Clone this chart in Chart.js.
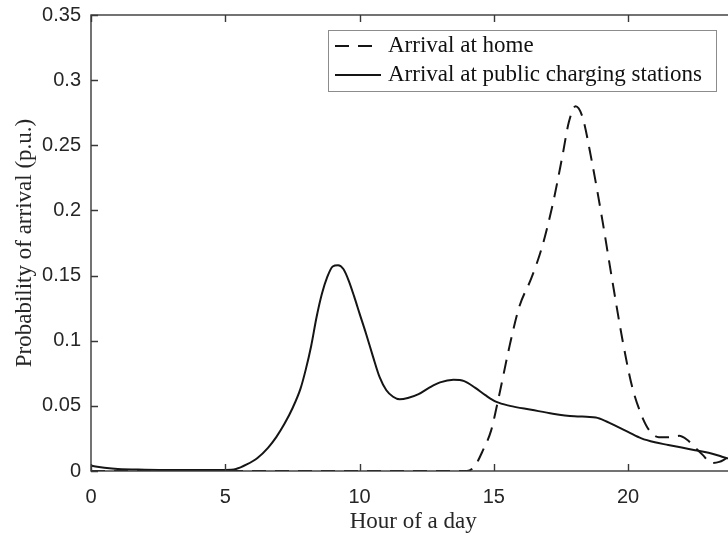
<!DOCTYPE html>
<html>
<head>
<meta charset="utf-8">
<title>Probability of arrival</title>
<script src="https://cdn.jsdelivr.net/npm/chart.js@4.4.1/dist/chart.umd.min.js"></script>
<style>
  html, body { margin: 0; padding: 0; background: #fff; overflow: hidden; }
  #wrap { width: 740px; height: 539px; }
</style>
</head>
<body>
<div id="wrap"><canvas id="chart" width="740" height="539"></canvas></div>
<script>
// arrival at home (dashed curve)
const homeHours = [0, 14.0, 14.3, 14.6, 14.9, 15.2, 15.6, 15.95, 16.4, 16.8, 17.2, 17.55, 17.8, 18.05,
  18.3, 18.65, 19.05, 19.4, 19.8, 20.15, 20.5, 20.8, 21.15, 21.6, 21.9, 22.2, 22.5, 22.8, 23.1, 23.4, 23.7, 24];
const homeProb = [0, 0, 0.004, 0.016, 0.031, 0.058, 0.097, 0.126, 0.148, 0.172, 0.205, 0.241, 0.268, 0.280,
  0.272, 0.238, 0.192, 0.148, 0.100, 0.065, 0.043, 0.031, 0.026, 0.026, 0.027, 0.024, 0.018, 0.012, 0.006, 0.007, 0.010, 0.012];

// arrival at public charging stations (solid curve)
const publicHours = [0, 0.5, 1, 2, 3, 4, 5, 5.4, 5.8, 6.2, 6.6, 6.9, 7.2, 7.5, 7.8, 8.0, 8.2, 8.4, 8.6, 8.8,
  9.0, 9.2, 9.4, 9.6, 9.8, 10.0, 10.25, 10.5, 10.75, 11.0, 11.25, 11.5, 11.8, 12.2, 12.6, 13.0, 13.5, 13.9,
  14.3, 14.7, 15.1, 15.6, 16.4, 17.2, 18.0, 18.8, 19.2, 19.6, 20.0, 20.5, 21.0, 21.5, 22.0, 22.5, 23.0, 23.5, 24];
const publicProb = [0.004, 0.0025, 0.0015, 0.001, 0.0008, 0.0008, 0.0008, 0.0015, 0.005, 0.010, 0.018, 0.026,
  0.036, 0.048, 0.063, 0.078, 0.096, 0.118, 0.136, 0.149, 0.157, 0.158, 0.155, 0.146, 0.134, 0.121, 0.105,
  0.088, 0.072, 0.062, 0.057, 0.055, 0.056, 0.059, 0.064, 0.068, 0.070, 0.069, 0.064, 0.058, 0.053, 0.050,
  0.047, 0.044, 0.042, 0.041, 0.038, 0.034, 0.030, 0.025, 0.022, 0.020, 0.018, 0.016, 0.014, 0.011, 0.008];

const seriesNames = ['Arrival at home', 'Arrival at public charging stations'];

const xTicks = [0, 5, 10, 15, 20];
const yTicks = [0, 0.05, 0.1, 0.15, 0.2, 0.25, 0.3, 0.35];
const yTickLabels = ['0', '0.05', '0.1', '0.15', '0.2', '0.25', '0.3', '0.35'];

const axisColor = '#383838';
const textColor = '#262626';
const lineColor = '#151515';
const serif = "'Liberation Serif', 'Times New Roman', serif";
const sans = "'Liberation Sans', Arial, sans-serif";

const toPoints = (xs, ys) => xs.map((h, i) => ({ x: h, y: ys[i] }));

// boxed axes with inward ticks on all four sides
const framePlugin = {
  id: 'frame',
  afterDatasetsDraw(chart) {
    const { ctx, chartArea: a, scales: { x, y } } = chart;
    const len = 7;
    ctx.save();
    ctx.strokeStyle = axisColor;
    ctx.lineWidth = 1.4;
    ctx.strokeRect(a.left, a.top, a.right - a.left, a.bottom - a.top);
    ctx.beginPath();
    xTicks.forEach(v => {
      const px = Math.round(x.getPixelForValue(v)) + 0.5;
      ctx.moveTo(px, a.bottom); ctx.lineTo(px, a.bottom - len);
      ctx.moveTo(px, a.top); ctx.lineTo(px, a.top + len);
    });
    yTicks.forEach(v => {
      const py = Math.round(y.getPixelForValue(v)) + 0.5;
      ctx.moveTo(a.left, py); ctx.lineTo(a.left + len, py);
      ctx.moveTo(a.right, py); ctx.lineTo(a.right - len, py);
    });
    ctx.stroke();
    ctx.restore();
  }
};

// legend box in the upper right of the plot
const legendPlugin = {
  id: 'boxLegend',
  afterDraw(chart) {
    const { ctx } = chart;
    const box = { left: 328.5, top: 30.5, width: 388, height: 61 };
    const rows = [46, 75];
    ctx.save();
    ctx.fillStyle = '#ffffff';
    ctx.fillRect(box.left, box.top, box.width, box.height);
    ctx.strokeStyle = '#8c8c8c';
    ctx.lineWidth = 1;
    ctx.strokeRect(box.left, box.top, box.width, box.height);
    chart.data.datasets.forEach((ds, i) => {
      const yy = rows[i];
      ctx.strokeStyle = ds.borderColor;
      ctx.lineWidth = ds.borderWidth;
      ctx.setLineDash(ds.borderDash || []);
      ctx.beginPath();
      ctx.moveTo(335, yy);
      ctx.lineTo(381, yy);
      ctx.stroke();
      ctx.setLineDash([]);
      ctx.fillStyle = '#111111';
      ctx.font = '23px ' + serif;
      ctx.textBaseline = 'middle';
      ctx.textAlign = 'left';
      ctx.fillText(ds.label, 388, yy);
    });
    ctx.restore();
  }
};

new Chart(document.getElementById('chart'), {
  type: 'line',
  data: {
    datasets: [
      {
        label: seriesNames[0],
        data: toPoints(homeHours, homeProb),
        borderColor: lineColor,
        borderWidth: 2,
        borderDash: [14, 9],
        pointRadius: 0,
        fill: false,
        cubicInterpolationMode: 'monotone'
      },
      {
        label: seriesNames[1],
        data: toPoints(publicHours, publicProb),
        borderColor: lineColor,
        borderWidth: 2,
        pointRadius: 0,
        fill: false,
        cubicInterpolationMode: 'monotone'
      }
    ]
  },
  options: {
    responsive: false,
    animation: false,
    devicePixelRatio: 1,
    layout: { padding: { left: 0, top: 15, right: 4.6, bottom: 0 } },
    plugins: {
      legend: { display: false },
      tooltip: { enabled: false }
    },
    scales: {
      x: {
        type: 'linear',
        min: 0,
        max: 24,
        grid: { display: false, drawTicks: false },
        border: { display: false },
        afterBuildTicks: s => { s.ticks = xTicks.map(v => ({ value: v })); },
        afterFit: s => { s.height = 68; s.paddingLeft = 0; s.paddingRight = 0; },
        ticks: {
          color: textColor,
          font: { family: sans, size: 20 },
          padding: 14,
          maxRotation: 0,
          callback: v => String(v)
        },
        title: {
          display: true,
          text: 'Hour of a day',
          color: textColor,
          font: { family: serif, size: 23, lineHeight: 1 },
          padding: { top: 0, bottom: 5.5 }
        }
      },
      y: {
        type: 'linear',
        min: 0,
        max: 0.35,
        grid: { display: false, drawTicks: false },
        border: { display: false },
        afterBuildTicks: s => { s.ticks = yTicks.map(v => ({ value: v })); },
        afterFit: s => { s.width = 91; s.paddingTop = 0; s.paddingBottom = 0; },
        ticks: {
          color: textColor,
          font: { family: sans, size: 20 },
          padding: 10,
          callback: (v, i) => yTickLabels[i]
        },
        title: {
          display: true,
          text: 'Probability of arrival (p.u.)',
          color: textColor,
          font: { family: serif, size: 23, lineHeight: 1 },
          padding: { top: 13.5, bottom: 0 }
        }
      }
    }
  },
  plugins: [framePlugin, legendPlugin]
});
</script>
</body>
</html>
